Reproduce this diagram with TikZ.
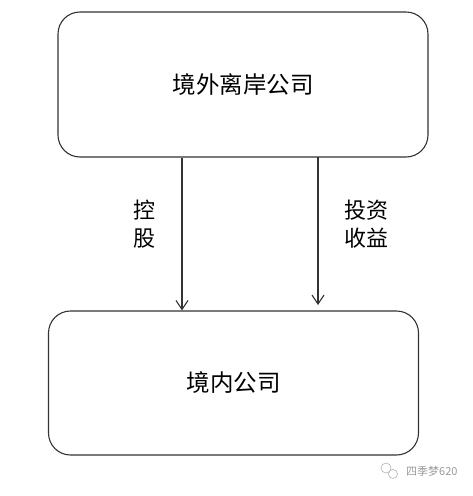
\documentclass[tikz,border=0pt]{standalone}
\usepackage{fontspec}
\newfontfamily\cjk{Noto Sans CJK SC}
\usetikzlibrary{arrows.meta}
\begin{document}
\begin{tikzpicture}[x=1pt,y=-1pt,
  box/.style={draw=black!80,line width=1.1pt,rounded corners=22pt,minimum width=370pt,minimum height=145pt,inner sep=0pt,font=\cjk\fontsize{23.5}{27}\selectfont},
  lbl/.style={font=\cjk\fontsize{22}{28}\selectfont,align=center,inner sep=0pt},
  conn/.style={draw=black!80,line width=1.1pt,-{Straight Barb[length=9pt,width=12pt,line width=1.1pt]}},
  wm/.style={text=black!40,font=\cjk\fontsize{11}{13}\selectfont,inner sep=0pt}]
\useasboundingbox (0,0) rectangle (472,496);
\node[box] (top) at (243,84.5) {境外离岸公司};
\node[box,minimum height=144pt] (bot) at (233.5,383) {境内公司};
\coordinate (ra) at (318,157);
\coordinate (rb) at (318,305);
\draw[conn] (top.south -| 182,0) -- (bot.north -| 182,0);
\draw[conn] (ra) -- (rb);
\node[lbl] (l1) at (144,224) {控\\股};
\node[lbl] (l2) at (366,224) {投资\\收益};
\node[wm,anchor=west] (wmt) at (406,471) {四季梦620};
\draw[black!30,line width=0.6pt] (386,468) circle (5) (393,474) circle (4.5);
\end{tikzpicture}
\end{document}
